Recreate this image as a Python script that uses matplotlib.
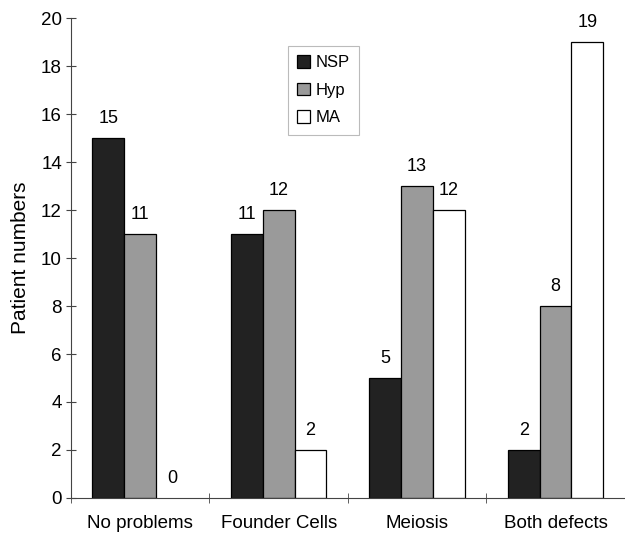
import numpy as np
import matplotlib
matplotlib.use('Agg')
import matplotlib.pyplot as plt

plt.rcParams['font.family'] = ['Liberation Sans', 'DejaVu Sans']

# data
categories = ['No problems', 'Founder Cells', 'Meiosis', 'Both defects']
nsp = [15, 11, 5, 2]
hyp = [11, 12, 13, 8]
ma = [0, 2, 12, 19]
series_names = ['NSP', 'Hyp', 'MA']
colors = ['#222222', '#9a9a9a', '#ffffff']

fig = plt.figure(figsize=(6.25, 5.36), dpi=100)
ax = fig.add_axes([0.1136, 0.071, 0.886, 0.895])

x = np.arange(len(categories))
width = 0.23
containers = []
for i, (vals, name, col) in enumerate(zip([nsp, hyp, ma], series_names, colors)):
    pos = x + (i - 1) * width
    bc = ax.bar(pos, vals, width, color=col, edgecolor='black', linewidth=0.9, label=name)
    containers.append((bc, vals))
    for p, v in zip(pos, vals):
        ax.text(p, v + 0.45, str(v), ha='center', va='bottom', fontsize=13)

ax.set_xlim(-0.5, 3.46)
ax.set_ylim(0, 20)
ax.set_yticks(range(0, 21, 2))
ax.set_xticks(x)
ax.set_xticklabels(categories, fontsize=13.5)
ax.set_xticks(np.arange(-0.5, 3.6, 1), minor=True)
ax.tick_params(axis='x', which='major', length=0, pad=12)
ax.tick_params(axis='x', which='minor', length=7, direction='inout', color='#444444')
ax.tick_params(axis='y', labelsize=13.5, length=7, direction='inout', color='#444444', pad=3)
ax.set_ylabel('Patient numbers', fontsize=15, labelpad=8)

for s in ['top', 'right']:
    ax.spines[s].set_visible(False)
for s in ['left', 'bottom']:
    ax.spines[s].set_color('#444444')

leg = ax.legend(loc='upper left', bbox_to_anchor=(0.376, 0.96), fontsize=12,
                frameon=True, fancybox=False, handlelength=0.8, handleheight=0.8,
                handletextpad=0.35, labelspacing=0.75, borderpad=0.55)
leg.get_frame().set_edgecolor('#aaaaaa')
leg.get_frame().set_linewidth(0.8)

# zero-height bars show no outline in the original
for bc, vals in containers:
    for patch, v in zip(bc.patches, vals):
        if v == 0:
            patch.set_linewidth(0)

fig.savefig('out.png', dpi=100)
